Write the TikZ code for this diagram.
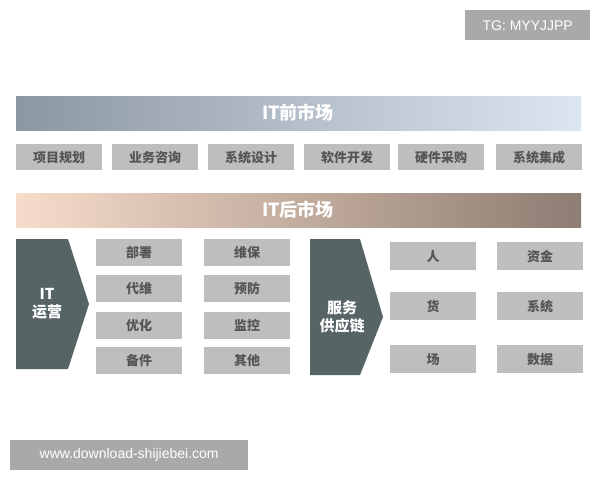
\documentclass[tikz,border=0pt]{standalone}
\usepackage{fontspec}
\setmainfont{Noto Sans CJK SC}
\setsansfont{Liberation Sans}
\begin{document}
\begin{tikzpicture}[x=1pt,y=-1pt,
  gbox/.style={fill=boxgray,text=txtgray,font=\bfseries\fontsize{13}{15}\selectfont,inner sep=0pt},
  wm/.style={fill=wmgray,text=white,font=\sffamily\fontsize{14}{16}\selectfont,inner sep=0pt}]
\definecolor{boxgray}{HTML}{BEBEBE}
\definecolor{txtgray}{HTML}{555555}
\definecolor{darkg}{HTML}{566466}
\definecolor{wmgray}{HTML}{A9A9A9}
\definecolor{b1}{HTML}{8C97A4}
\definecolor{b2}{HTML}{DCE6F0}
\definecolor{c1}{HTML}{F6DCCA}
\definecolor{c2}{HTML}{8E7D73}
\useasboundingbox (0,0) rectangle (600,480);
\fill[white] (0,0) rectangle (600,480);
% banners
\shade[left color=b1, right color=b2] (16,96) rectangle (581,130);
\node[text=white,font=\bfseries\fontsize{18}{20}\selectfont] (pre) at (298,113) {IT前市场};
\shade[left color=c1, right color=c2] (16,193) rectangle (581,227);
\node[text=white,font=\bfseries\fontsize{18}{20}\selectfont] (post) at (298,210) {IT后市场};
% top row
\foreach \x/\t [count=\i] in {16/项目规划,112/业务咨询,208/系统设计,304/软件开发,398/硬件采购,496/系统集成}
  \node[gbox,minimum width=86pt,minimum height=26pt,anchor=north west] (t\i) at (\x,144) {\t};
% IT arrow
\fill[darkg] (16,239) -- (68,239) -- (89,304) -- (68,369) -- (16,369) -- cycle;
\node[text=white,font=\bfseries\fontsize{15}{18}\selectfont,align=center] (itop) at (47,304) {IT\\运营};
\foreach \y/\a/\b [count=\i] in {239/部署/维保,275/代维/预防,312/优化/监控,347/备件/其他}{
  \node[gbox,minimum width=86pt,minimum height=27pt,anchor=north west] (l\i) at (96,\y) {\a};
  \node[gbox,minimum width=86pt,minimum height=27pt,anchor=north west] (m\i) at (204,\y) {\b};
}
% service arrow
\fill[darkg] (310,239) -- (360,239) -- (383,317) -- (360,375) -- (310,375) -- cycle;
\node[text=white,font=\bfseries\fontsize{15}{18}\selectfont,align=center] (svc) at (342,317) {服务\\供应链};
\foreach \y/\a/\b [count=\i] in {242/人/资金,292/货/系统,345/场/数据}{
  \node[gbox,minimum width=86pt,minimum height=28pt,anchor=north west] (r\i) at (390,\y) {\a};
  \node[gbox,minimum width=86pt,minimum height=28pt,anchor=north west] (s\i) at (497,\y) {\b};
}
% watermarks
\node[wm,minimum width=125pt,minimum height=30pt,anchor=north west] (tg) at (465,10) {TG: MYYJJPP};
\node[wm,minimum width=238pt,minimum height=30pt,anchor=north west] (url) at (10,440) {www.download-shijiebei.com};
\end{tikzpicture}
\end{document}
